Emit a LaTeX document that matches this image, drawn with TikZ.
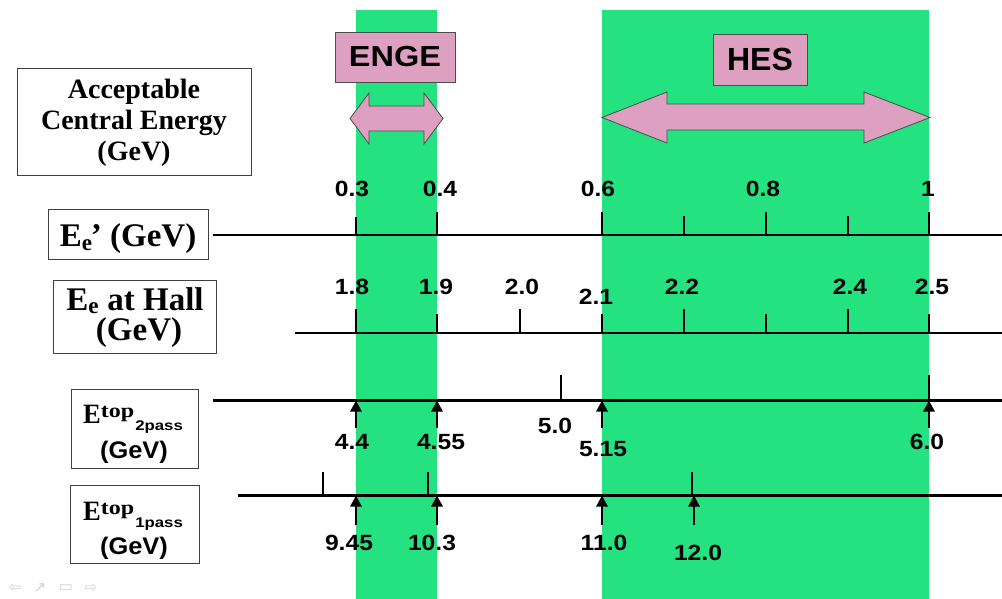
\documentclass[tikz,border=0pt]{standalone}
\usepackage{graphicx}
\usepackage{fontspec}
\setmainfont{Liberation Serif}
\setsansfont{Liberation Sans}
\newfontfamily\symfont{DejaVu Sans}
\newfontfamily\widesans[FakeStretch=1.12]{Liberation Sans}
\usetikzlibrary{arrows.meta}
\definecolor{bandgreen}{RGB}{36,226,128}
\definecolor{pinkfill}{RGB}{221,160,192}
\tikzset{
  axisline/.style={line width=2.8pt},
  thicktick/.style={line width=2.6pt},
  thintick/.style={line width=1.4pt},
  uparrow/.style={line width=2.8pt,-{Triangle[length=11pt,width=11pt]}},
  numlab/.style={font=\widesans\bfseries\fontsize{22}{24}\selectfont,inner sep=0pt},
  labelbox/.style={draw=black!75,line width=0.9pt,fill=white,inner sep=0pt},
  boxtext/.style={inner sep=0pt,anchor=base,font=\bfseries},
  pinkbox/.style={draw=black!70,line width=0.9pt,fill=pinkfill,inner sep=0pt},
  pinkarrow/.style={draw=black!70,line width=0.8pt,fill=pinkfill},
  navicon/.style={text=black!18,font=\symfont\fontsize{15}{15}\selectfont,inner sep=0pt},
}
\newcommand{\etop}[1]{%
  \scalebox{0.95}[1]{\fontsize{28}{28}\selectfont E}%
  \raisebox{6pt}{\scalebox{1.2}[1]{\fontsize{20}{20}\selectfont top}}%
  \hspace{1pt}%
  \raisebox{-7pt}{\scalebox{1.2}[1]{\sffamily\bfseries\fontsize{14}{15}\selectfont #1}}}
\newcommand{\gevwide}{\scalebox{1.06}[1]{\sffamily\bfseries\fontsize{24}{26}\selectfont (GeV)}}
\begin{document}
\begin{tikzpicture}[x=1pt,y=-1pt]
\useasboundingbox (0,0) rectangle (1002,599);
% green bands
\fill[bandgreen] (356,10) rectangle (437,599);
\fill[bandgreen] (602,10) rectangle (929,599);

% pink labels and double arrows
\node[pinkbox,minimum width=120pt,minimum height=50pt,font=\widesans\bfseries\fontsize{29}{31}\selectfont] (enge) at (395,57) {ENGE};
\node[pinkbox,minimum width=94pt,minimum height=51pt,font=\sffamily\bfseries\fontsize{32}{34}\selectfont] (hes) at (760,59.5) {HES};
\draw[pinkarrow] (350,118.5) -- (369,93) -- (369,106) -- (424,106) -- (424,93) -- (443,118.5)
  -- (424,144) -- (424,131) -- (369,131) -- (369,144) -- cycle;
\draw[pinkarrow] (602,117.5) -- (667,92) -- (667,104) -- (864,104) -- (864,92) -- (930,117.5)
  -- (864,143) -- (864,130) -- (667,130) -- (667,143) -- cycle;

% left boxes
\node[labelbox,minimum width=234pt,minimum height=107pt] (acc) at (134,121.5) {};
\node[boxtext,font=\bfseries\fontsize{28}{30}\selectfont] (acc1) at (134,99) {Acceptable};
\node[boxtext,font=\bfseries\fontsize{28}{30}\selectfont] (acc2) at (134,130) {Central Energy};
\node[boxtext,font=\bfseries\fontsize{28}{30}\selectfont] (acc3) at (134,161) {(GeV)};

\node[labelbox,minimum width=160pt,minimum height=50pt] (eep) at (128,234) {};
\node[boxtext,font=\bfseries\fontsize{33}{35}\selectfont] (eept) at (128,247) {E\textsubscript{e}\kern-0.05em’ (GeV)};

\node[labelbox,minimum width=163pt,minimum height=73pt] (ehall) at (134.5,316.5) {};
\node[boxtext,font=\bfseries\fontsize{33}{35}\selectfont] (ehall1) at (135,310) {E\textsubscript{e} at Hall};
\node[boxtext,font=\bfseries\fontsize{33}{35}\selectfont] (ehall2) at (139,340) {(GeV)};

\node[labelbox,minimum width=127pt,minimum height=79pt] (e2) at (134.5,428.5) {};
\node[boxtext,anchor=base west] (e2a) at (83,423) {\etop{2pass}};
\node[boxtext] (e2b) at (134,458) {\gevwide};

\node[labelbox,minimum width=129pt,minimum height=78pt] (e1) at (134.5,524) {};
\node[boxtext,anchor=base west] (e1a) at (83,520) {\etop{1pass}};
\node[boxtext] (e1b) at (134,554) {\gevwide};

% ---- axis 1: E_e'
\coordinate (a1s) at (213,235); \coordinate (a1e) at (1002,235);
\draw[axisline] (a1s) -- (a1e);
\coordinate (t1a) at (356,217); \coordinate (b1a) at (356,235);
\coordinate (t1b) at (437,212); \coordinate (b1b) at (437,235);
\coordinate (t1c) at (602,212); \coordinate (b1c) at (602,235);
\coordinate (t1d) at (684,216); \coordinate (b1d) at (684,235);
\coordinate (t1e) at (766,212); \coordinate (b1e) at (766,235);
\coordinate (t1f) at (848,216); \coordinate (b1f) at (848,235);
\coordinate (t1g) at (929,212); \coordinate (b1g) at (929,235);
\draw[thintick] (t1a) -- (b1a);
\draw[thicktick] (t1b) -- (b1b);
\draw[thicktick] (t1c) -- (b1c);
\draw[thintick] (t1d) -- (b1d);
\draw[thicktick] (t1e) -- (b1e);
\draw[thintick] (t1f) -- (b1f);
\draw[thicktick] (t1g) -- (b1g);
\node[numlab] (l03) at (352,189) {0.3};
\node[numlab] (l04) at (440,189) {0.4};
\node[numlab] (l06) at (598,189) {0.6};
\node[numlab] (l08) at (763,189) {0.8};
\node[numlab] (l1) at (928,189) {1};

% ---- axis 2: E_e at Hall
\coordinate (a2s) at (295,333); \coordinate (a2e) at (1002,333);
\draw[axisline] (a2s) -- (a2e);
\coordinate (t2a) at (356,309); \coordinate (b2a) at (356,333);
\coordinate (t2b) at (437,314); \coordinate (b2b) at (437,333);
\coordinate (t2c) at (520,309); \coordinate (b2c) at (520,333);
\coordinate (t2d) at (602,314); \coordinate (b2d) at (602,333);
\coordinate (t2e) at (684,309); \coordinate (b2e) at (684,333);
\coordinate (t2f) at (766,314); \coordinate (b2f) at (766,333);
\coordinate (t2g) at (848,309); \coordinate (b2g) at (848,333);
\coordinate (t2h) at (929,314); \coordinate (b2h) at (929,333);
\draw[thicktick] (t2a) -- (b2a);
\draw[thintick] (t2b) -- (b2b);
\draw[thicktick] (t2c) -- (b2c);
\draw[thintick] (t2d) -- (b2d);
\draw[thicktick] (t2e) -- (b2e);
\draw[thintick] (t2f) -- (b2f);
\draw[thicktick] (t2g) -- (b2g);
\draw[thintick] (t2h) -- (b2h);
\node[numlab] (l18) at (352,287) {1.8};
\node[numlab] (l19) at (436,287) {1.9};
\node[numlab] (l20) at (522,287) {2.0};
\node[numlab] (l21) at (596,297) {2.1};
\node[numlab] (l22) at (682,287) {2.2};
\node[numlab] (l24) at (850,287) {2.4};
\node[numlab] (l25) at (932,287) {2.5};

% ---- axis 3: E top 2pass
\coordinate (a3s) at (213,400.5); \coordinate (a3e) at (1002,400.5);
\draw[axisline] (a3s) -- (a3e);
\coordinate (t3a) at (561,375); \coordinate (b3a) at (561,400.5);
\coordinate (t3b) at (929,375); \coordinate (b3b) at (929,400.5);
\draw[thintick] (t3a) -- (b3a);
\draw[thicktick] (t3b) -- (b3b);
\foreach \n/\x in {p1/356,p2/437,p3/602,p4/929}{
  \coordinate (\n tail) at (\x,428); \coordinate (\n tip) at (\x,400.5);
  \draw[uparrow] (\n tail) -- (\n tip);
}
\node[numlab] (l44) at (352,442) {4.4};
\node[numlab] (l455) at (441,442) {4.55};
\node[numlab] (l50) at (555,426) {5.0};
\node[numlab] (l515) at (603,449) {5.15};
\node[numlab] (l60) at (927,442) {6.0};

% ---- axis 4: E top 1pass
\coordinate (a4s) at (238,495.5); \coordinate (a4e) at (1002,495.5);
\draw[axisline] (a4s) -- (a4e);
\coordinate (t4a) at (323,472); \coordinate (b4a) at (323,495.5);
\coordinate (t4b) at (428,472); \coordinate (b4b) at (428,495.5);
\coordinate (t4c) at (692,472); \coordinate (b4c) at (692,495.5);
\draw[thintick] (t4a) -- (b4a);
\draw[thintick] (t4b) -- (b4b);
\draw[thintick] (t4c) -- (b4c);
\foreach \n/\x in {q1/356,q2/437,q3/602,q4/694}{
  \coordinate (\n tail) at (\x,525); \coordinate (\n tip) at (\x,495.5);
  \draw[uparrow] (\n tail) -- (\n tip);
}
\node[numlab] (l945) at (349,543) {9.45};
\node[numlab] (l103) at (432,543) {10.3};
\node[numlab] (l110) at (604,543) {11.0};
\node[numlab] (l120) at (698,553) {12.0};

% navigation icons
\node[navicon] (nav1) at (15,588) {⇦};
\node[navicon] (nav2) at (40,588) {↗};
\node[navicon] (nav3) at (66,588) {▭};
\node[navicon] (nav4) at (91,588) {⇨};
\end{tikzpicture}
\end{document}
